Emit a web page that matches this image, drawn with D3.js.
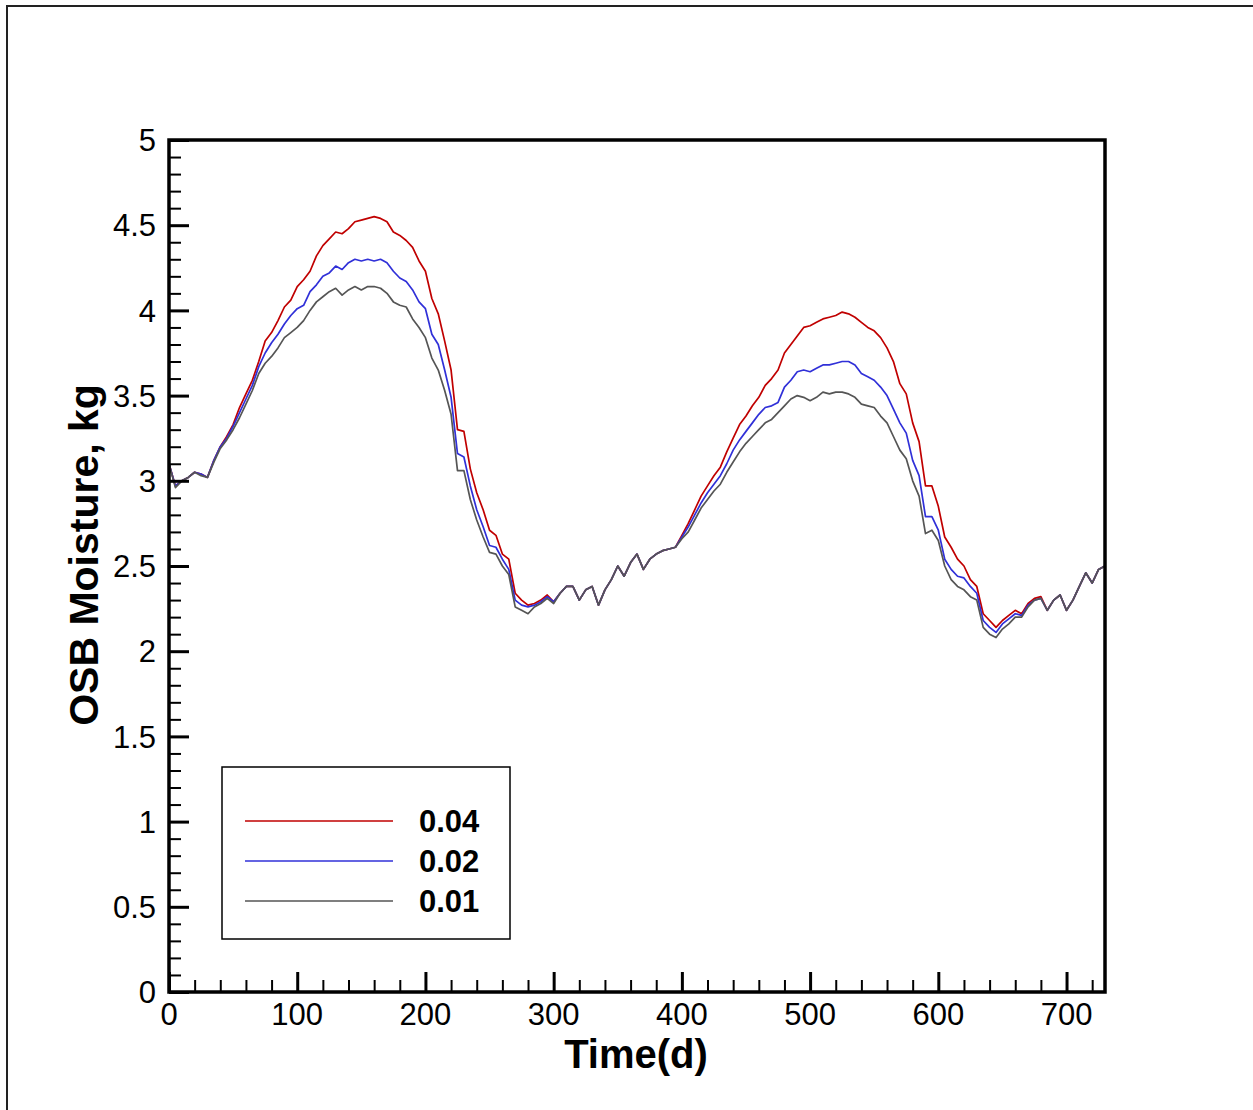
<!DOCTYPE html>
<html>
<head>
<meta charset="utf-8">
<script src="https://cdn.jsdelivr.net/npm/d3@7"></script>
<style>
  html, body { margin: 0; padding: 0; background: #fff; }
  svg { display: block; }
  text { font-family: "Liberation Sans", Arial, sans-serif; }
</style>
</head>
<body>
<script>
const days = d3.range(0, 731, 5);

const series004 = [
  3.10, 2.97, 3.00, 3.02, 3.05, 3.04, 3.02, 3.12, 3.20, 3.26,
  3.33, 3.43, 3.51, 3.59, 3.70, 3.82, 3.87, 3.94, 4.02, 4.06,
  4.14, 4.18, 4.23, 4.32, 4.38, 4.42, 4.46, 4.45, 4.48, 4.52,
  4.53, 4.54, 4.55, 4.54, 4.52, 4.46, 4.44, 4.41, 4.37, 4.29,
  4.23, 4.07, 3.98, 3.82, 3.65, 3.30, 3.29, 3.07, 2.93, 2.83,
  2.71, 2.68, 2.57, 2.54, 2.34, 2.30, 2.27, 2.28, 2.30, 2.33,
  2.29, 2.34, 2.38, 2.38, 2.30, 2.36, 2.38, 2.27, 2.36, 2.42,
  2.50, 2.44, 2.52, 2.57, 2.48, 2.54, 2.57, 2.59, 2.60, 2.61,
  2.68, 2.75, 2.83, 2.91, 2.97, 3.03, 3.08, 3.17, 3.25, 3.33,
  3.38, 3.44, 3.49, 3.56, 3.60, 3.65, 3.75, 3.80, 3.85, 3.90,
  3.91, 3.93, 3.95, 3.96, 3.97, 3.99, 3.98, 3.96, 3.93, 3.90,
  3.88, 3.84, 3.78, 3.70, 3.57, 3.51, 3.34, 3.23, 2.97, 2.97,
  2.85, 2.67, 2.61, 2.54, 2.50, 2.42, 2.38, 2.22, 2.18, 2.14,
  2.18, 2.21, 2.24, 2.22, 2.28, 2.31, 2.32, 2.24, 2.30, 2.33,
  2.24, 2.30, 2.38, 2.46, 2.40, 2.48, 2.50
];

const series002 = [
  3.10, 2.97, 3.00, 3.02, 3.05, 3.04, 3.02, 3.12, 3.20, 3.25,
  3.32, 3.40, 3.48, 3.56, 3.67, 3.75, 3.81, 3.86, 3.92, 3.97,
  4.01, 4.03, 4.11, 4.15, 4.20, 4.22, 4.26, 4.24, 4.28, 4.30,
  4.29, 4.30, 4.29, 4.30, 4.28, 4.23, 4.19, 4.17, 4.12, 4.05,
  4.01, 3.86, 3.80, 3.65, 3.49, 3.16, 3.14, 2.97, 2.83, 2.73,
  2.62, 2.61, 2.54, 2.48, 2.30, 2.27, 2.26, 2.27, 2.29, 2.32,
  2.29, 2.34, 2.38, 2.38, 2.30, 2.36, 2.38, 2.27, 2.36, 2.42,
  2.50, 2.44, 2.52, 2.57, 2.48, 2.54, 2.57, 2.59, 2.60, 2.61,
  2.67, 2.73, 2.80, 2.87, 2.93, 2.98, 3.03, 3.10, 3.18, 3.24,
  3.29, 3.34, 3.39, 3.43, 3.44, 3.46, 3.55, 3.59, 3.64, 3.65,
  3.64, 3.66, 3.68, 3.68, 3.69, 3.70, 3.70, 3.68, 3.63, 3.61,
  3.59, 3.55, 3.50, 3.42, 3.34, 3.28, 3.12, 3.03, 2.79, 2.79,
  2.71, 2.54, 2.48, 2.44, 2.43, 2.38, 2.34, 2.18, 2.14, 2.11,
  2.16, 2.19, 2.22, 2.21, 2.27, 2.30, 2.31, 2.24, 2.30, 2.33,
  2.24, 2.30, 2.38, 2.46, 2.40, 2.48, 2.50
];

const series001 = [
  3.10, 2.96, 3.00, 3.02, 3.05, 3.03, 3.02, 3.11, 3.19, 3.24,
  3.30, 3.37, 3.45, 3.53, 3.63, 3.69, 3.73, 3.78, 3.84, 3.87,
  3.90, 3.94, 4.00, 4.05, 4.08, 4.11, 4.13, 4.09, 4.12, 4.14,
  4.12, 4.14, 4.14, 4.13, 4.10, 4.05, 4.03, 4.02, 3.95, 3.90,
  3.84, 3.72, 3.65, 3.53, 3.39, 3.06, 3.06, 2.89, 2.77, 2.67,
  2.58, 2.57, 2.50, 2.45, 2.26, 2.24, 2.22, 2.26, 2.28, 2.31,
  2.28, 2.34, 2.38, 2.38, 2.30, 2.36, 2.38, 2.27, 2.36, 2.42,
  2.50, 2.44, 2.52, 2.57, 2.48, 2.54, 2.57, 2.59, 2.60, 2.61,
  2.66, 2.70, 2.77, 2.84, 2.89, 2.94, 2.98, 3.05, 3.11, 3.17,
  3.22, 3.26, 3.30, 3.34, 3.36, 3.40, 3.44, 3.48, 3.50, 3.49,
  3.47, 3.49, 3.52, 3.51, 3.52, 3.52, 3.51, 3.49, 3.45, 3.44,
  3.43, 3.38, 3.34, 3.26, 3.18, 3.13, 3.00, 2.91, 2.69, 2.71,
  2.65, 2.50, 2.42, 2.38, 2.36, 2.32, 2.30, 2.14, 2.10, 2.08,
  2.13, 2.16, 2.20, 2.20, 2.26, 2.30, 2.31, 2.24, 2.30, 2.33,
  2.24, 2.30, 2.38, 2.46, 2.40, 2.48, 2.50
];

const seriesNames = ["0.04", "0.02", "0.01"];
const seriesColors = ["#c00000", "#3030d8", "#555555"];
const xTicks = [0, 100, 200, 300, 400, 500, 600, 700];
const yTicks = [0, 0.5, 1, 1.5, 2, 2.5, 3, 3.5, 4, 4.5, 5];
const xTitle = "Time(d)";
const yTitle = "OSB Moisture, kg";

// ---- layout ----
const W = 1253, H = 1110;
const svg = d3.select("body").append("svg").attr("width", W).attr("height", H);
svg.append("rect").attr("width", W).attr("height", H).attr("fill", "#fff");

// outer frame (left and top visible)
svg.append("path").attr("d", `M7,${H} V6 H${W}`)
  .attr("fill", "none").attr("stroke", "#222").attr("stroke-width", 2);

const x = d3.scaleLinear().domain([0, 730]).range([169, 1105]);
const y = d3.scaleLinear().domain([0, 5]).range([992, 140]);

// series lines
const allSeries = [series004, series002, series001];
const line = d3.line().x((d, i) => x(days[i])).y(d => y(d));
allSeries.forEach((s, k) => {
  svg.append("path").datum(s).attr("d", line)
    .attr("fill", "none").attr("stroke", seriesColors[k])
    .attr("stroke-width", 1.7).attr("stroke-linejoin", "round");
});

// frame of plot
svg.append("rect").attr("x", 169).attr("y", 140).attr("width", 1105 - 169).attr("height", 992 - 140)
  .attr("fill", "none").attr("stroke", "#000").attr("stroke-width", 3.5);

// x axis ticks (inward)
const xAxis = d3.axisTop(x).tickValues(xTicks).tickSize(20).tickFormat("");
const gx = svg.append("g").attr("transform", "translate(0,992)").call(xAxis);
gx.select(".domain").remove();
gx.selectAll(".tick line").attr("stroke", "#000").attr("stroke-width", 3);
const xMinor = d3.axisTop(x).tickValues(d3.range(20, 730, 20).filter(v => v % 100 !== 0)).tickSize(12).tickFormat("");
const gxm = svg.append("g").attr("transform", "translate(0,992)").call(xMinor);
gxm.select(".domain").remove();
gxm.selectAll(".tick line").attr("stroke", "#000").attr("stroke-width", 2);
svg.append("g").selectAll("text").data(xTicks).join("text")
  .attr("x", d => x(d)).attr("y", 1025).attr("text-anchor", "middle")
  .attr("font-size", 31).attr("fill", "#000").text(d => d);

// y axis ticks (inward)
const yAxis = d3.axisRight(y).tickValues(yTicks).tickSize(20).tickFormat("");
const gy = svg.append("g").attr("transform", "translate(169,0)").call(yAxis);
gy.select(".domain").remove();
gy.selectAll(".tick line").attr("stroke", "#000").attr("stroke-width", 3);
const yMinor = d3.axisRight(y).tickValues(d3.range(1, 50).filter(v => v % 5 !== 0).map(v => v / 10)).tickSize(12).tickFormat("");
const gym = svg.append("g").attr("transform", "translate(169,0)").call(yMinor);
gym.select(".domain").remove();
gym.selectAll(".tick line").attr("stroke", "#000").attr("stroke-width", 2);
svg.append("g").selectAll("text").data(yTicks).join("text")
  .attr("x", 156).attr("y", d => y(d)).attr("dy", "0.36em").attr("text-anchor", "end")
  .attr("font-size", 31).attr("fill", "#000").text(d => d);

// axis titles
svg.append("text").attr("x", 636).attr("y", 1068).attr("text-anchor", "middle")
  .attr("font-size", 40).attr("font-weight", "bold").attr("fill", "#000").text(xTitle);
svg.append("text").attr("transform", "translate(98,555) rotate(-90)").attr("text-anchor", "middle")
  .attr("font-size", 41).attr("font-weight", "bold").attr("fill", "#000").text(yTitle);

// legend
svg.append("rect").attr("x", 222).attr("y", 767).attr("width", 288).attr("height", 172)
  .attr("fill", "#fff").attr("stroke", "#000").attr("stroke-width", 1.5);
const legendY = [821, 861, 901];
seriesNames.forEach((n, k) => {
  svg.append("line").attr("x1", 245).attr("x2", 393).attr("y1", legendY[k]).attr("y2", legendY[k])
    .attr("stroke", seriesColors[k]).attr("stroke-width", 1.3);
  svg.append("text").attr("x", 419).attr("y", legendY[k]).attr("dy", "0.36em")
    .attr("font-size", 31).attr("font-weight", "bold").attr("fill", "#000").text(n);
});
</script>
</body>
</html>
